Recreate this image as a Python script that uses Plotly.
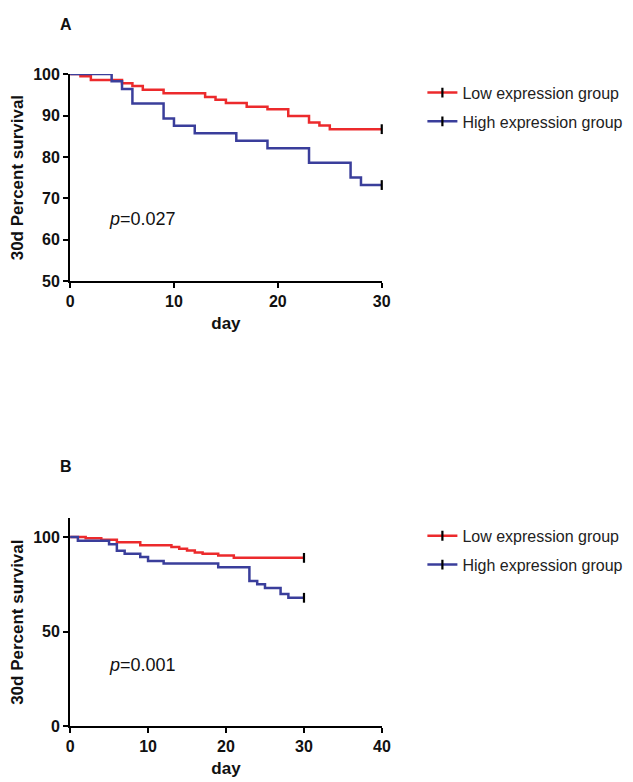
import plotly.graph_objects as go

# ---------------- data ----------------
groups = ["Low expression group", "High expression group"]

a_low_days = [0, 1, 2, 5, 6, 7, 9, 13, 14, 15, 17, 19, 21, 23, 24, 25, 30]
a_low_surv = [100, 99.5, 98.6, 97.8, 97.1, 96.2, 95.4, 94.5, 93.8, 93.0, 92.1, 91.5, 89.9, 88.3, 87.6, 86.7, 86.7]
a_high_days = [0, 4, 5, 6, 9, 10, 12, 16, 19, 23, 27, 28, 30]
a_high_surv = [100, 98.3, 96.4, 92.9, 89.3, 87.5, 85.7, 83.9, 82.1, 78.6, 75.0, 73.2, 73.2]

b_low_days = [0, 2, 4, 6, 9, 13, 14, 15, 16, 17, 19, 21, 30]
b_low_surv = [100, 99.4, 98.6, 97.2, 95.7, 94.8, 93.8, 92.9, 91.9, 91.2, 90.3, 89.0, 89.0]
b_high_days = [0, 1, 5, 6, 7, 9, 10, 12, 19, 23, 24, 25, 27, 28, 30]
b_high_surv = [100, 98.1, 96.2, 92.7, 91.2, 89.5, 87.4, 86.0, 84.1, 76.8, 75.1, 73.1, 69.9, 67.9, 67.9]

p_values = ["0.027", "0.001"]
panel_labels = ["A", "B"]
a_xticks = [0, 10, 20, 30]
a_yticks = [50, 60, 70, 80, 90, 100]
b_xticks = [0, 10, 20, 30, 40]
b_yticks = [0, 50, 100]

# ---------------- style ----------------
W, H = 633, 782
RED = "#ec2a2c"
BLUE = "#3a3e9b"
FONT = "Liberation Sans"
colors = [RED, BLUE]

fig = go.Figure()

panels = [
    ("x", "y", "legend", [(a_low_days, a_low_surv), (a_high_days, a_high_surv)]),
    ("x2", "y2", "legend2", [(b_low_days, b_low_surv), (b_high_days, b_high_surv)]),
]

for xa, ya, leg, series in panels:
    for (days, surv), col in zip(series, colors):
        fig.add_trace(go.Scatter(
            x=days, y=surv, mode="lines", line=dict(color=col, width=2.5, shape="hv"),
            xaxis=xa, yaxis=ya, showlegend=False, hoverinfo="skip"))
    for (days, surv), col, name in zip(series, colors, groups):
        fig.add_trace(go.Scatter(
            x=[days[-1]], y=[surv[-1]], mode="lines+markers", name=name,
            line=dict(color=col, width=2.5),
            marker=dict(symbol="line-ns", size=7, color="black",
                        line=dict(color="black", width=2.2)),
            xaxis=xa, yaxis=ya, legend=leg, legendgroup=name + xa,
            showlegend=True, cliponaxis=False))


def px_x(p):
    return p / W


def px_y(p):
    return 1 - p / H


axis_common = dict(
    showline=True, linecolor="black", linewidth=2, ticks="outside", ticklen=5,
    tickwidth=2, tickcolor="black", showgrid=False, zeroline=False,
    tickfont=dict(family=FONT, size=16, color="#111", weight="bold"),
    title_font=dict(family=FONT, size=17, color="#111", weight="bold"),
)

legend_common = dict(xanchor="left", yanchor="top",
                     font=dict(family=FONT, size=16, color="#222"), traceorder="grouped",
                     tracegroupgap=5, bgcolor="rgba(0,0,0,0)")

fig.update_layout(
    width=W, height=H, margin=dict(l=0, r=0, t=0, b=0),
    plot_bgcolor="white", paper_bgcolor="white",
    xaxis=dict(domain=[px_x(59.3), px_x(377.5)], range=[0, 30], tickvals=a_xticks,
               anchor="y", title=dict(text="day", standoff=8), **axis_common),
    yaxis=dict(domain=[px_y(271), px_y(59.4)], range=[50, 100], tickvals=a_yticks,
               anchor="x", title=dict(text="30d Percent survival", standoff=9), **axis_common),
    xaxis2=dict(domain=[px_x(59.3), px_x(377.7)], range=[0, 40], tickvals=b_xticks,
                anchor="y2", title=dict(text="day", standoff=8), **axis_common),
    yaxis2=dict(domain=[px_y(726), px_y(513.3)], range=[0, 110], tickvals=b_yticks,
                anchor="x2", title=dict(text="30d Percent survival", standoff=9), **axis_common),
    legend=dict(x=px_x(419), y=px_y(61), **legend_common),
    legend2=dict(x=px_x(419), y=px_y(514), **legend_common),
)

for lbl, pv, yl, yp in zip(panel_labels, p_values, [9, 461], [208, 663]):
    fig.add_annotation(text="<b>%s</b>" % lbl, x=px_x(55), y=px_y(yl), xref="paper", yref="paper",
                       showarrow=False, font=dict(family=FONT, size=16, color="#111"),
                       xanchor="center", yanchor="middle")
    fig.add_annotation(text="<i>p</i>=%s" % pv, x=px_x(97), y=px_y(yp), xref="paper", yref="paper",
                       showarrow=False, font=dict(family=FONT, size=18, color="#111"),
                       xanchor="left", yanchor="middle")

fig.write_html("out.html")
